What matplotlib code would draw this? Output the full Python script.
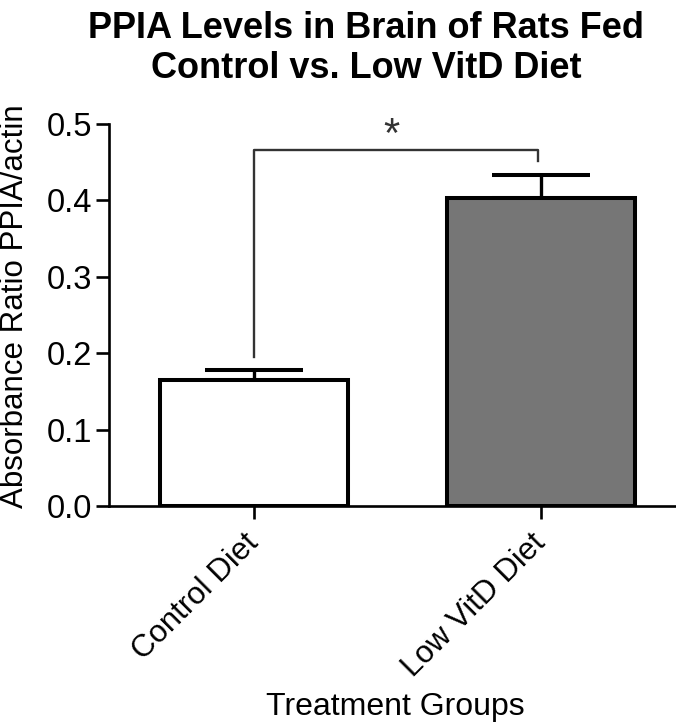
import matplotlib
matplotlib.use("Agg")
import matplotlib.pyplot as plt

plt.rcParams['font.family'] = ['Liberation Sans', 'DejaVu Sans']

categories = ["Control Diet", "Low VitD Diet"]
means = [0.165, 0.403]
sems = [0.013, 0.030]
bar_colors = ["#ffffff", "#767676"]
bracket_low = [0.195, 0.452]
bracket_top = 0.466
sig_label = "*"

fig = plt.figure(figsize=(6.76, 7.25), dpi=100)
ax = fig.add_axes([109/676, 1-506/725, 1-109/676, (506-124)/725])

x = list(range(len(categories)))
ax.bar(x, means, width=0.652, color=bar_colors, edgecolor='black', linewidth=2.9, zorder=2)
ax.errorbar(x, means, yerr=[[0]*len(sems), sems], fmt='none', ecolor='black',
            elinewidth=2.4, capsize=35, capthick=2.9, zorder=1)

# significance bracket
ax.plot([x[0], x[0], x[1]-0.01, x[1]-0.01], [bracket_low[0], bracket_top, bracket_top, bracket_low[1]],
        color='#333333', linewidth=1.7, solid_joinstyle='round', clip_on=False, zorder=3)
ax.text(0.477, 0.47, sig_label, ha='center', va='baseline', fontsize=30, color='#333333')

ax.set_xlim(-0.505, 1.47)
ax.set_ylim(0, 0.5)
ax.set_yticks([0.0, 0.1, 0.2, 0.3, 0.4, 0.5])
ax.set_yticklabels(["0.0", "0.1", "0.2", "0.3", "0.4", "0.5"])
ax.set_xticks(x)
ax.set_xticklabels(categories, rotation=45, ha='right', va='center',
                   rotation_mode='anchor', fontsize=22.5)

ax.spines['top'].set_visible(False)
ax.spines['right'].set_visible(False)
ax.spines['left'].set_linewidth(1.9)
ax.spines['bottom'].set_linewidth(1.9)
ax.tick_params(axis='y', direction='out', length=9.4, width=1.9, labelsize=23.5, pad=3)
ax.tick_params(axis='x', direction='out', length=9.4, width=1.9, pad=14)

ax.set_ylabel("Absorbance Ratio PPIA/actin", fontsize=22.5)
ax.yaxis.set_label_coords(-0.165, 0.524)
ax.yaxis.label.set_va('center')
ax.set_xlabel("Treatment Groups", fontsize=23)
ax.xaxis.set_label_coords(0.505, -0.526)
ax.xaxis.label.set_va('center')

fig.text(366/676, 1-28/725, "PPIA Levels in Brain of Rats Fed", ha='center', va='center',
         fontsize=26, fontweight='bold')
fig.text(366/676, 1-68/725, "Control vs. Low VitD Diet", ha='center', va='center',
         fontsize=26, fontweight='bold')

fig.savefig("out.png", dpi=100)
